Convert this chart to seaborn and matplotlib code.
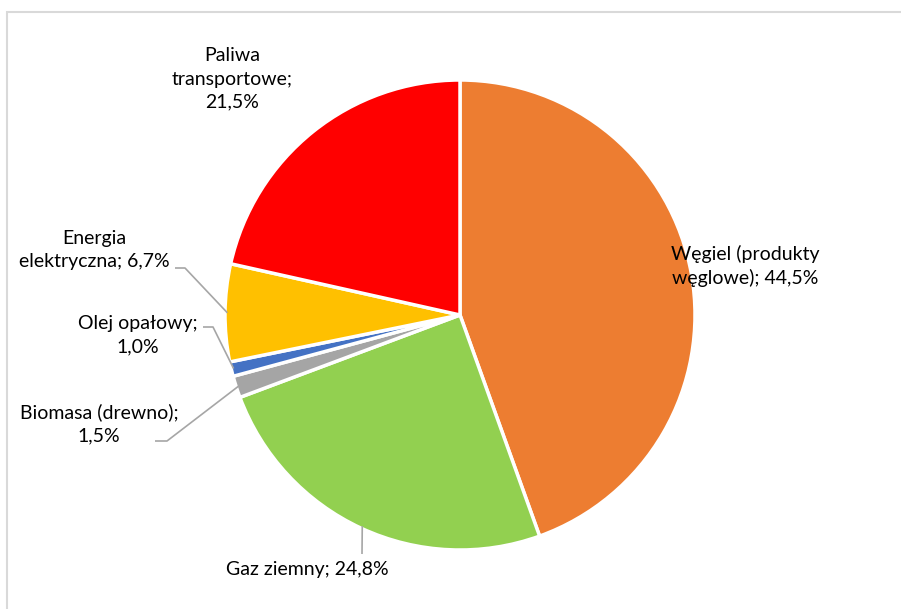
import numpy as np
import matplotlib
matplotlib.use("Agg")
import matplotlib.pyplot as plt
import matplotlib.patches as patches
import seaborn as sns

categories = ["Węgiel (produkty\nwęglowe)", "Gaz ziemny", "Biomasa (drewno);\n", "Olej opałowy;\n",
              "Energia\nelektryczna", "Paliwa\ntransportowe;\n"]
shares = [44.5, 24.8, 1.5, 1.0, 6.7, 21.5]
colors = ["#ED7D31", "#92D050", "#A5A5A5", "#4472C4", "#FFC000", "#FF0000"]

sns.set_theme(style="white")
plt.rcParams["font.family"] = ["Lato", "DejaVu Sans"]

W, H = 901, 609
fig = plt.figure(figsize=(W / 100, H / 100), dpi=100)
ax = fig.add_axes([0, 0, 1, 1])

cx, cy, r = 460, H - 315, 235
pal = sns.color_palette(colors)
wedges, _ = ax.pie(shares, colors=pal, startangle=90, counterclock=False,
                   center=(cx, cy), radius=r, frame=True,
                   wedgeprops=dict(edgecolor="white", linewidth=2.5))
ax.set_xlim(0, W)
ax.set_ylim(0, H)
ax.set_aspect("equal")
ax.axis("off")

# label layout in pixel coordinates (x, y from top), optional elbow
layout = [
    dict(pos=(745, 266), elbow=None),
    dict(pos=(307, 570), elbow=(362, 554)),
    dict(pos=(99, 424), elbow=[(167, 441), (155, 441)]),
    dict(pos=(138, 335), elbow=[(213, 327), (203, 327)]),
    dict(pos=(94, 250), elbow=[(185, 268), (175, 268)]),
    dict(pos=(232, 79), elbow=None),
]

gray = "#A6A6A6"
for w, cat, val, lay in zip(wedges, categories, shares, layout):
    sep = "" if cat.endswith("\n") else "; "
    lab = f"{cat}{sep}{val:.1f}%".replace(".", ",")
    x, y = lay["pos"]
    ax.text(x, H - y, lab, ha="center", va="center", fontsize=14,
            color="#000000", linespacing=1.45)
    if lay["elbow"] is not None:
        mid = np.deg2rad((w.theta1 + w.theta2) / 2)
        px, py = cx + r * 0.99 * np.cos(mid), cy + r * 0.99 * np.sin(mid)
        pts = lay["elbow"] if isinstance(lay["elbow"], list) else [lay["elbow"]]
        xs = [px] + [p[0] for p in pts]
        ys = [py] + [H - p[1] for p in pts]
        ax.plot(xs, ys, color=gray, lw=1.2, solid_capstyle="butt")

ax.add_patch(patches.Rectangle((6.5, -5), W, H - 11.5 + 5, fill=False,
                               edgecolor="#D9D9D9", lw=1.5, clip_on=False))

fig.savefig("out.png", dpi=100)
